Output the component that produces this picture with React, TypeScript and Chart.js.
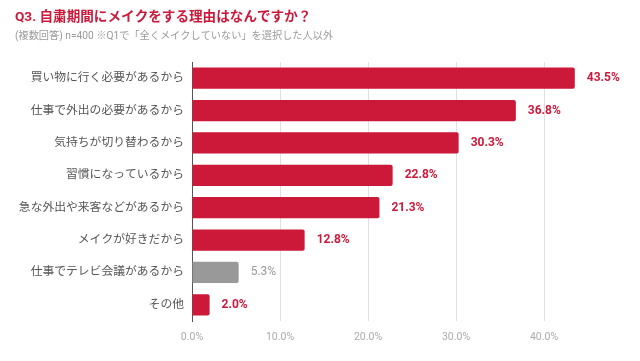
import React, { useEffect, useRef } from "react";
import { Chart, registerables } from "chart.js";

Chart.register(...registerables);

const title = "Q3. 自粛期間にメイクをする理由はなんですか？";
const subtitle = "(複数回答) n=400 ※Q1で「全くメイクしていない」を選択した人以外";
const categories = [
  "買い物に行く必要があるから",
  "仕事で外出の必要があるから",
  "気持ちが切り替わるから",
  "習慣になっているから",
  "急な外出や来客などがあるから",
  "メイクが好きだから",
  "仕事でテレビ会議があるから",
  "その他",
];
const values = [43.5, 36.8, 30.3, 22.8, 21.3, 12.8, 5.3, 2.0];
const highlighted = [true, true, true, true, true, true, false, true];
const xTicks = [0, 10, 20, 30, 40];

const RED = "#CC1839";
const GRAY = "#999999";
const FONT = "Roboto, 'Noto Sans CJK JP', sans-serif";

const textPlugin = {
  id: "textPlugin",
  afterDraw(chart: any) {
    const ctx = chart.ctx;
    ctx.save();
    ctx.textBaseline = "middle";
    ctx.textAlign = "left";
    ctx.fillStyle = RED;
    ctx.font = `bold 13.6px ${FONT}`;
    ctx.fillText(title, 15, 18);
    ctx.fillStyle = "#9a9a9a";
    ctx.font = `10.2px ${FONT}`;
    ctx.fillText(subtitle, 15, 36);

    const meta = chart.getDatasetMeta(0);
    meta.data.forEach((bar: any, i: number) => {
      const hl = highlighted[i];
      ctx.fillStyle = hl ? RED : GRAY;
      ctx.font = `${hl ? "bold " : ""}12px ${FONT}`;
      ctx.fillText(values[i].toFixed(1) + "%", bar.x + 12, bar.y);
    });
    ctx.restore();
  },
};

export default function App() {
  const ref = useRef<HTMLCanvasElement>(null);
  useEffect(() => {
    if (!ref.current) return;
    const chart = new Chart(ref.current, {
      type: "bar",
      data: {
        labels: categories,
        datasets: [
          {
            data: values,
            backgroundColor: highlighted.map((h) => (h ? RED : GRAY)),
            barPercentage: 0.66,
            categoryPercentage: 1,
            borderRadius: 2,
            borderSkipped: "start",
          },
        ],
      },
      options: {
        indexAxis: "y",
        animation: false,
        responsive: false,
        maintainAspectRatio: false,
        layout: { padding: { left: 0, right: 8, top: 62, bottom: 0 } },
        plugins: {
          legend: { display: false },
          tooltip: { enabled: false },
          title: { display: false },
        },
        scales: {
          x: {
            min: 0,
            max: 50,
            afterBuildTicks: (scale: any) => {
              scale.ticks = xTicks.map((v) => ({ value: v }));
            },
            afterFit: (scale: any) => {
              scale.height = 40;
            },
            ticks: {
              color: "#aaaaaa",
              font: { family: FONT, size: 10.5 },
              padding: 10,
              callback: (v: any) => Number(v).toFixed(1) + "%",
            },
            grid: { color: "#e0e0e0", drawTicks: false, lineWidth: 1 },
            border: { display: false },
          },
          y: {
            afterFit: (scale: any) => {
              scale.width = 192;
            },
            ticks: {
              color: "#555555",
              font: { family: FONT, size: 11.8 },
              padding: 8,
            },
            grid: { display: false, drawTicks: false },
            border: { display: true, color: "#555555", width: 1 },
          },
        },
      },
      plugins: [textPlugin],
    });
    return () => chart.destroy();
  }, []);
  return (
    <div style={{ position: "fixed", left: 0, top: 0, width: 640, height: 361, background: "#fff" }}>
      <canvas ref={ref} width={640} height={361} style={{ width: 640, height: 361 }} />
    </div>
  );
}
